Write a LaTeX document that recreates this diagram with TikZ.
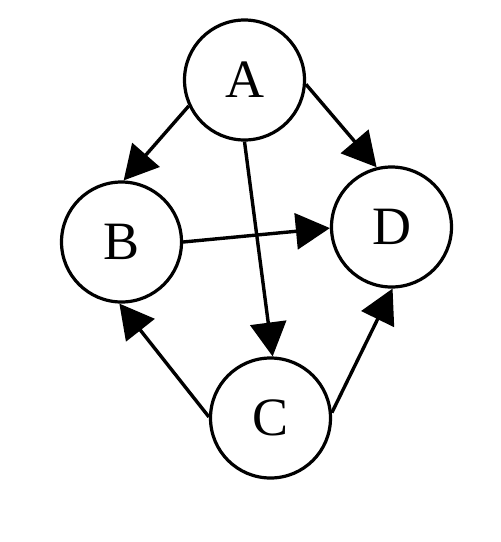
\documentclass[tikz,border=0pt]{standalone}
\usepackage{fontspec}
\setmainfont{Liberation Serif}
\usetikzlibrary{arrows.meta}
\begin{document}
\begin{tikzpicture}[x=0.5pt,y=-0.5pt,
  vertex/.style={circle,draw,line width=1.6pt,minimum size=60pt,inner sep=0pt,font=\fontsize{27}{32}\selectfont},
  edge/.style={line width=1.7pt,-{Triangle[length=17pt,width=18pt]}}]
\useasboundingbox (0,0) rectangle (500,542);
\node[vertex] (A) at (244.5,80) {A};
\node[vertex] (B) at (121.5,242) {B};
\node[vertex] (D) at (391.5,227) {D};
\node[vertex] (C) at (270.5,418) {C};
\draw[edge] (A.205.5) -- (B.88.5);
\draw[edge] (A.-4.5) -- (D.104);
\draw[edge] (A.270) -- (C.88.5);
\draw[edge] (B.0) -- (D.181);
\draw[edge] (C.179) -- (B.268.5);
\draw[edge] (C.5) -- (D.271.5);
\end{tikzpicture}
\end{document}
